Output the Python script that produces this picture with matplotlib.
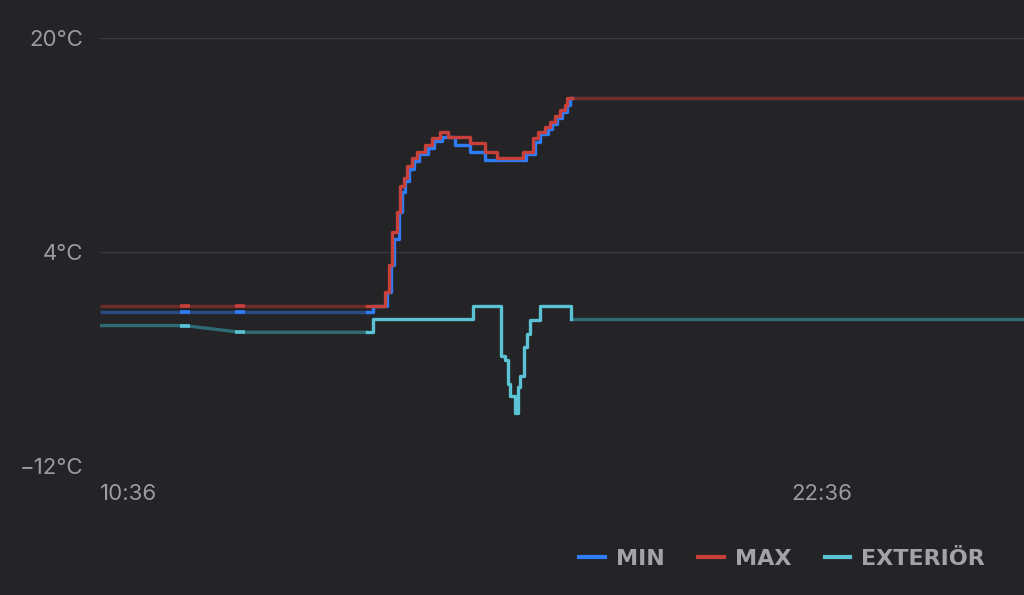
#!/usr/bin/env python3
"""Temperature history chart (dark theme): MIN / MAX / EXTERIÖR."""

import matplotlib
matplotlib.use('Agg')
import matplotlib.pyplot as plt
import matplotlib.dates as mdates
import pandas as pd

BASE_DATE = "2024-01-15"
START_HOUR = 10

# sparse readings before the dense part (drawn dimmed)
head_times = ["10:36", "12:04", "13:02"]
min_head = [-0.5, -0.5, -0.5]
max_head = [0.0, 0.0, 0.0]
ext_head = [-1.5, -1.5, -2.0]

# dense readings (drawn bright, stepped)
min_times = ["15:14", "15:20", "15:35", "15:39", "15:42", "15:47", "15:50", "15:54",
             "15:58", "16:03", "16:08", "16:17", "16:24", "16:32", "16:46", "17:01",
             "17:17", "17:59", "18:09", "18:14", "18:22", "18:27", "18:32", "18:37",
             "18:42", "18:45", "18:47"]
min_vals = [-0.5, 0.0, 1.0, 3.0, 5.0, 7.0, 8.5, 9.3,
            10.2, 10.8, 11.3, 11.8, 12.3, 12.6, 12.0, 11.5,
            10.9, 11.3, 12.2, 12.8, 13.2, 13.6, 14.0, 14.5,
            15.0, 15.5, 15.5]

max_times = ["15:14", "15:33", "15:37", "15:40", "15:45", "15:48", "15:52", "15:56",
             "16:01", "16:06", "16:14", "16:22", "16:30", "16:38", "17:01", "17:17",
             "17:29", "17:56", "18:07", "18:12", "18:19", "18:25", "18:30", "18:35",
             "18:40", "18:42", "18:47"]
max_vals = [0.0, 1.0, 3.0, 5.5, 7.0, 8.9, 9.5, 10.4,
            11.0, 11.5, 12.0, 12.5, 13.0, 12.6, 12.15, 11.5,
            11.0, 11.5, 12.5, 13.0, 13.35, 13.7, 14.2, 14.6,
            15.0, 15.5, 15.5]

ext_times = ["15:14", "15:20", "17:04", "17:34", "17:38", "17:41", "17:43", "17:48",
             "17:51", "17:53", "17:57", "18:01", "18:04", "18:14", "18:46"]
ext_vals = [-2.0, -1.0, 0.0, -3.8, -4.1, -5.9, -6.8, -8.0,
            -6.1, -5.3, -3.1, -2.1, -1.1, 0.0, -1.0]

# value held until the right edge (dimmed)
end_time = "02:38"
min_tail = 15.5
max_tail = 15.5
ext_tail = -1.0

y_ticks = [-12, 4, 20]
x_tick_times = ["10:36", "22:36"]

BG = '#242426'
GRID = '#3a3a3c'
TEXT = '#9c9c9e'
series = [
    ('MIN', '#2f7cf6', '#294a85', min_head, min_times, min_vals, min_tail),
    ('MAX', '#c8403a', '#6e2b29', max_head, max_times, max_vals, max_tail),
    ('EXTERIÖR', '#5bc1d5', '#2f6b74', ext_head, ext_times, ext_vals, ext_tail),
]


def to_times(labels):
    out = []
    for s in labels:
        t = pd.Timestamp(f"{BASE_DATE} {s}")
        if t.hour < START_HOUR:
            t += pd.Timedelta(days=1)
        out.append(t)
    return out


plt.rcParams['font.family'] = ['Inter', 'DejaVu Sans']

fig = plt.figure(figsize=(10.24, 5.95), dpi=100, facecolor=BG)
ax = fig.add_axes([100 / 1024, 1 - 466 / 595, 1 - 100 / 1024, (466 - 38) / 595])
ax.set_facecolor(BG)

# draw blue first, red on top, cyan last
handles = []
for name, bright, dim, head, times, vals, tail in series:
    ht = to_times(head_times)
    dt = to_times(times)
    et = to_times([end_time])[0]
    # dimmed parts
    ax.plot(ht + [dt[0]], head + [vals[0]], color=dim, lw=2.4,
            solid_capstyle='butt', zorder=2)
    ax.plot([dt[-1], et], [vals[-1], tail], color=dim, lw=2.4,
            solid_capstyle='butt', zorder=2)
    # bright markers at the sparse readings
    ax.plot(ht[1:], head[1:], linestyle='none', marker='_', markersize=7,
            markeredgewidth=2.6, color=bright, zorder=3)
    # dense part
    line, = ax.plot(dt, vals, color=bright, lw=2.4, drawstyle='steps-post',
                    zorder=4, label=name)
    handles.append(line)

ax.set_ylim(-12, 20)
ax.set_xlim(to_times(["10:36"])[0], to_times([end_time])[0])

ax.set_yticks(y_ticks)
ax.set_yticklabels([f"{v}°C".replace('-', '\u2212') for v in y_ticks])
ax.set_xticks(to_times(x_tick_times))
ax.xaxis.set_major_formatter(mdates.DateFormatter('%H:%M'))
ax.grid(axis='y', color=GRID, lw=1)
ax.tick_params(axis='both', length=0, colors=TEXT, labelsize=16)
ax.tick_params(axis='y', pad=12)
ax.tick_params(axis='x', pad=13)
for lbl in ax.get_xticklabels():
    lbl.set_horizontalalignment('left')
for s in ax.spines.values():
    s.set_visible(False)

leg = fig.legend(handles=handles, loc='center right',
                 bbox_to_anchor=(985 / 1024, 1 - 559 / 595),
                 ncol=3, frameon=False, handlelength=1.15, handletextpad=0.5,
                 columnspacing=1.5, borderpad=0, borderaxespad=0,
                 prop={'family': 'DejaVu Sans', 'weight': 'bold', 'size': 16})
for t in leg.get_texts():
    t.set_color('#a3a3a5')
for h in leg.get_lines():
    h.set_linewidth(3)

fig.savefig('out.png', dpi=100, facecolor=BG)
